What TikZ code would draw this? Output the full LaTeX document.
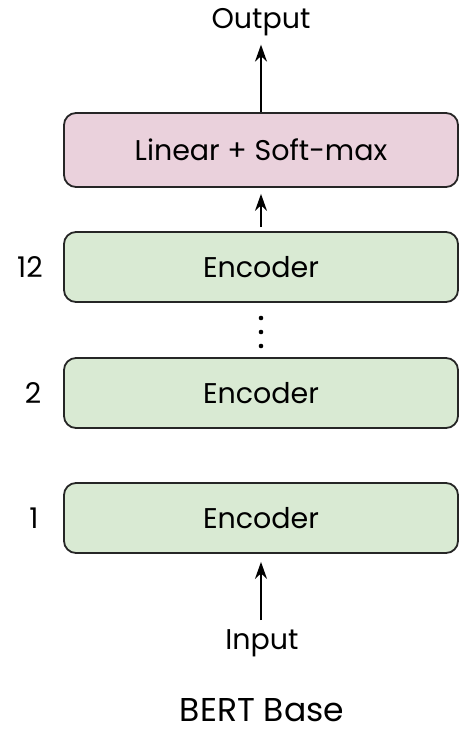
\documentclass[tikz,border=0pt]{standalone}
\usepackage{fontspec}
\setmainfont{Poppins}
\usepackage{tikz}
\usetikzlibrary{arrows.meta,positioning}
\definecolor{encgreen}{HTML}{D9EAD3}
\definecolor{headpink}{HTML}{EAD1DC}

\begin{document}
\begin{tikzpicture}[x=1pt, y=-1pt, >={Stealth[length=17pt,width=12pt]}, line width=1.8pt]
    \tikzset{
        layer/.style={draw=black!85, rounded corners=12pt, minimum width=394pt, minimum height=70pt, font=\fontsize{28.5}{32}\selectfont},
        encbox/.style={layer, fill=encgreen},
        headbox/.style={layer, fill=headpink, minimum height=74pt},
        lbl/.style={font=\fontsize{28.5}{32}\selectfont, inner sep=0pt}
    }
    \useasboundingbox (0,0) rectangle (461,733);

    % 输出层
    \node[headbox] (linear) at (261,150) {Linear + Soft-max};
    \node[lbl] (output) at (261,22) {Output};

    % 编码器堆叠
    \node[encbox] (enc12) at (261,267) {Encoder};
    \node[encbox] (enc2) at (261,393) {Encoder};
    \node[encbox] (enc1) at (261,518) {Encoder};
    \foreach \y in {318, 332, 346} {
        \fill (261,\y) circle (2.3pt);
    }

    % 层号
    \node[lbl] (num12) at (30,267) {12};
    \node[lbl] (num2) at (33,393) {2};
    \node[lbl] (num1) at (34,518) {1};

    % 输入与标题
    \node[lbl, anchor=base] (input) at (262,649) {Input};
    \node[lbl, anchor=base, text depth=0pt, font=\fontsize{33}{38}\selectfont] (title) at (262,721) {BERT Base};

    % 箭头
    \draw[->, shorten >=8pt] (linear) -- (output);
    \draw[->, shorten <=4pt, shorten >=6pt] (enc12) -- (linear);
    \draw[->, shorten <=8pt, shorten >=8pt] (input.north -| enc1) -- (enc1);
\end{tikzpicture}
\end{document}
